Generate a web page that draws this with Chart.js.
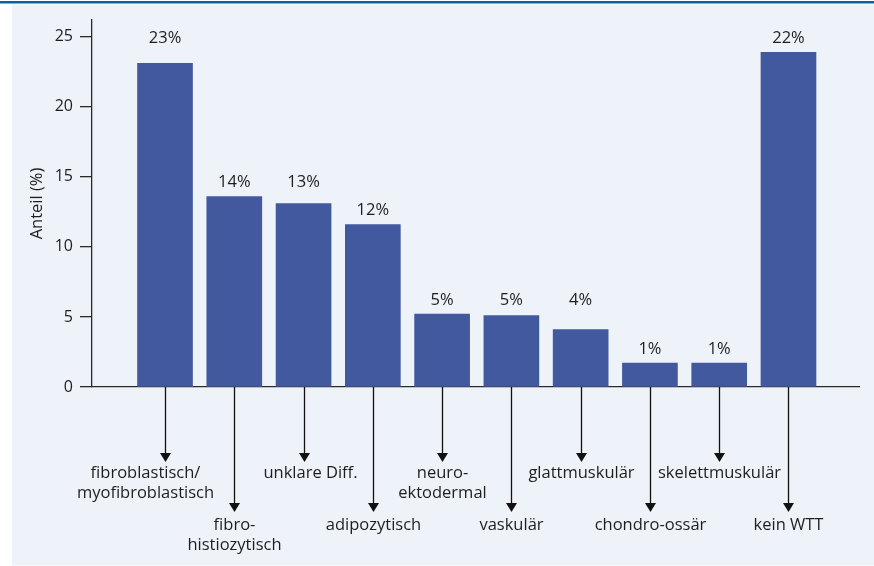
<!DOCTYPE html>
<html>
<head>
<meta charset="utf-8">
<script src="https://cdn.jsdelivr.net/npm/chart.js@4.4.1/dist/chart.umd.min.js"></script>
<style>
  html, body { margin: 0; padding: 0; background: #ffffff; }
  #wrap { width: 874px; height: 566px; }
</style>
</head>
<body>
<div id="wrap"><canvas id="c" width="874" height="566"></canvas></div>
<script>
// ---- data ----
const categories = [
  ['fibroblastisch/', 'myofibroblastisch'],
  ['fibro-', 'histiozytisch'],
  ['unklare Diff.'],
  ['adipozytisch'],
  ['neuro-', 'ektodermal'],
  ['vaskulär'],
  ['glattmuskulär'],
  ['chondro-ossär'],
  ['skelettmuskulär'],
  ['kein WTT']
];
const values = [23.1, 13.6, 13.1, 11.6, 5.2, 5.1, 4.1, 1.7, 1.7, 23.9];
const percentLabels = ['23%', '14%', '13%', '12%', '5%', '5%', '4%', '1%', '1%', '22%'];
const yTicks = [0, 5, 10, 15, 20, 25];
const yAxisTitle = 'Anteil (%)';

// ---- style ----
const FONT = "'Open Sans', 'DejaVu Sans', sans-serif";
const TEXT = '#1e1e1e';
const AXIS = '#2a2a2a';
const BAR = '#42599f';
const BG = '#eef2f9';
// value labels that share a common baseline (layout only)
const LABEL_GROUPS = [[0, 9], [1, 2], [3], [4, 5, 6], [7, 8]];

const backgroundPlugin = {
  id: 'bg',
  beforeDraw(chart) {
    const ctx = chart.ctx;
    ctx.save();
    ctx.fillStyle = '#ffffff';
    ctx.fillRect(0, 0, chart.width, chart.height);
    ctx.fillStyle = BG;
    ctx.fillRect(12, 4.5, chart.width - 12, chart.height - 5);
    ctx.fillStyle = '#0f5ea8';
    ctx.fillRect(0, 1, chart.width, 2.5);
    ctx.restore();
  }
};

const labelPlugin = {
  id: 'labels',
  afterDraw(chart) {
    const ctx = chart.ctx;
    const xs = chart.scales.x;
    const base = chart.scales.y.getPixelForValue(0);
    const meta = chart.getDatasetMeta(0);
    ctx.save();
    ctx.fillStyle = TEXT;
    ctx.font = '16.5px ' + FONT;
    ctx.textAlign = 'center';
    ctx.textBaseline = 'middle';
    // value labels above bars (grouped to a shared height)
    LABEL_GROUPS.forEach(g => {
      const top = Math.min(...g.map(i => meta.data[i].y));
      g.forEach(i => {
        ctx.fillText(percentLabels[i], meta.data[i].x, top - 14);
      });
    });
    // arrows + category labels
    categories.forEach((lines, i) => {
      const x = Math.round(xs.getPixelForValue(i)) + 0.5;
      const long = i % 2 === 1;
      const tip = long ? 512 : 462;
      ctx.strokeStyle = '#111';
      ctx.lineWidth = 1.3;
      ctx.beginPath();
      ctx.moveTo(x, base);
      ctx.lineTo(x, tip - 8);
      ctx.stroke();
      ctx.fillStyle = '#111';
      ctx.beginPath();
      ctx.moveTo(x - 5.5, tip - 9);
      ctx.lineTo(x + 5.5, tip - 9);
      ctx.lineTo(x, tip);
      ctx.closePath();
      ctx.fill();
      ctx.fillStyle = TEXT;
      const y0 = long ? 525 : 473;
      let shift = 0;
      if (i === 0) shift = -20;
      if (i === 2) shift = 6;
      lines.forEach((t, k) => {
        ctx.fillText(t, x + shift, y0 + k * 20.5);
      });
    });
    ctx.restore();
  }
};

new Chart(document.getElementById('c'), {
  type: 'bar',
  data: {
    datasets: [{
      data: values.map((v, i) => ({ x: i, y: v })),
      backgroundColor: BAR,
      borderWidth: 0,
      barThickness: 55
    }]
  },
  options: {
    responsive: false,
    animation: false,
    devicePixelRatio: 1,
    layout: { padding: { top: 20, right: 15, bottom: 0, left: 0 } },
    plugins: { legend: { display: false }, tooltip: { enabled: false } },
    scales: {
      x: {
        type: 'linear',
        offset: false,
        min: -1.054,
        max: 10.018,
        grid: { display: false, drawTicks: false, offset: false },
        ticks: { display: false },
        border: { display: true, color: AXIS, width: 1.3 },
        afterFit(scale) { scale.height = 179; }
      },
      y: {
        min: 0,
        max: 26.2,
        afterBuildTicks(scale) {
          scale.ticks = yTicks.map(v => ({ value: v }));
        },
        ticks: {
          color: TEXT,
          font: { family: FONT, size: 16 },
          padding: 7
        },
        grid: { drawOnChartArea: false, tickLength: 12, color: AXIS, lineWidth: 1.3 },
        border: { display: true, color: AXIS, width: 1.3 },
        title: {
          display: true,
          text: yAxisTitle,
          color: TEXT,
          font: { family: FONT, size: 16.5 },
          padding: { top: 27, bottom: 0 }
        },
        afterFit(scale) { scale.width = 92; }
      }
    }
  },
  plugins: [backgroundPlugin, labelPlugin]
});
</script>
</body>
</html>
